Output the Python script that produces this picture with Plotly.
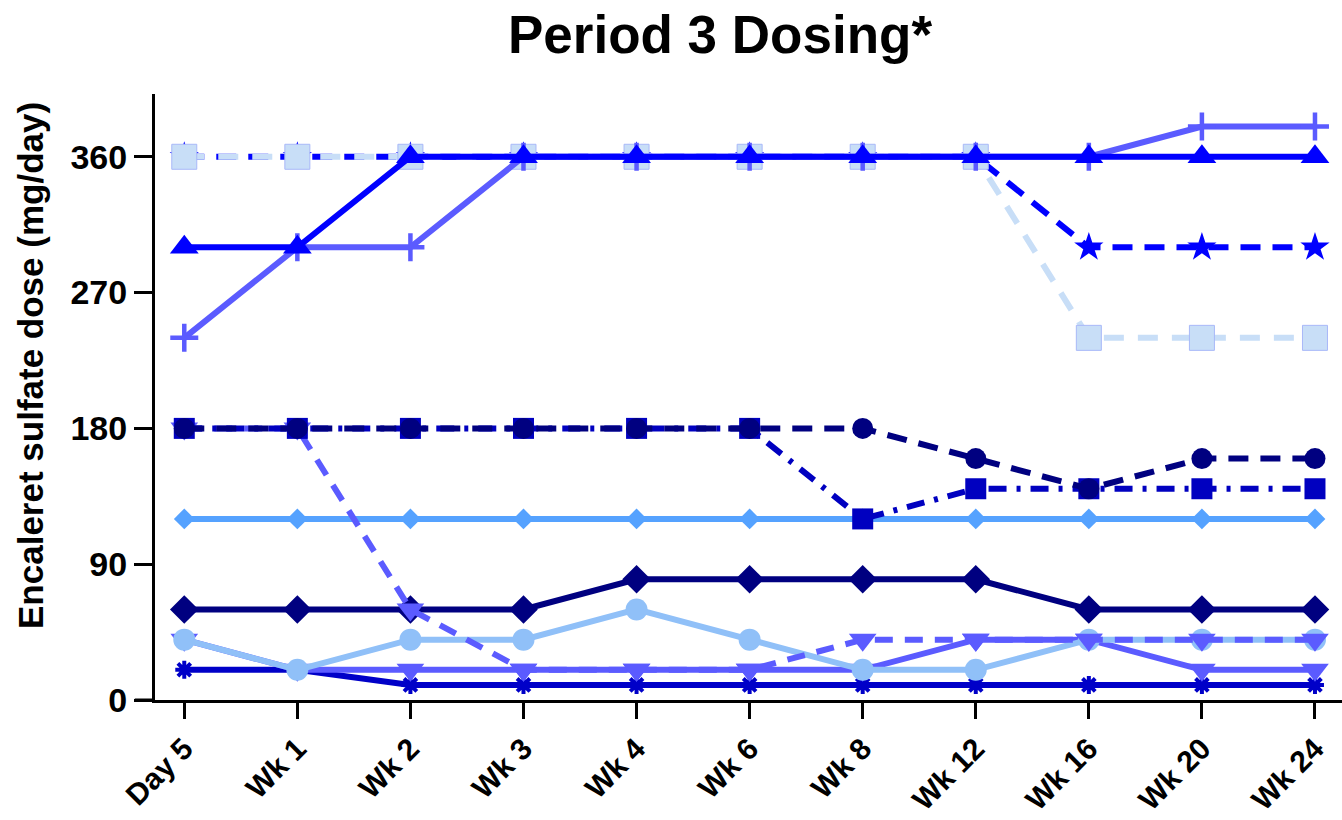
import plotly.graph_objects as go

categories = ["Day 5", "Wk 1", "Wk 2", "Wk 3", "Wk 4", "Wk 6", "Wk 8", "Wk 12", "Wk 16", "Wk 20", "Wk 24"]
y_ticks = [0, 90, 180, 270, 360]

lightblue_diamond = [120, 120, 120, 120, 120, 120, 120, 120, 120, 120, 120]
navy_diamond = [60, 60, 60, 60, 80, 80, 80, 80, 60, 60, 60]
asterisk_series = [20, 20, 10, 10, 10, 10, 10, 10, 10, 10, 10]
tridown_solid = [40, 20, 20, 20, 20, 20, 20, 40, 40, 20, 20]
light_circle = [40, 20, 40, 40, 60, 40, 20, 20, 40, 40, 40]
tridown_dashed = [180, 180, 60, 20, 20, 20, 40, 40, 40, 40, 40]
square_dashdot = [180, 180, 180, 180, 180, 180, 120, 140, 140, 140, 140]
circle_dashed = [180, 180, 180, 180, 180, 180, 180, 160, 140, 160, 160]
star_dashed = [360, 360, 360, 360, 360, 360, 360, 360, 300, 300, 300]
light_square = [360, 360, 360, 360, 360, 360, 360, 360, 240, 240, 240]
cross_series = [240, 300, 300, 360, 360, 360, 360, 360, 360, 380, 380]
triangle_series = [300, 300, 360, 360, 360, 360, 360, 360, 360, 360, 360]

x = list(range(len(categories)))

series = [
    (lightblue_diamond, "#55A2FF", "solid", "diamond", 16, 6, None),
    (navy_diamond, "#000080", "solid", "diamond", 22, 6, None),
    (asterisk_series, "#0000C8", "solid", "asterisk-open", 15, 6, 4),
    (tridown_solid, "#5B5BFF", "solid", "triangle-down", 24, 6, None),
    (light_circle, "#90C0F8", "solid", "circle", 22, 6, None),
    (tridown_dashed, "#5B5BFF", "18px,12px", "triangle-down", 24, 6, None),
    (square_dashdot, "#0000C0", "18px,10px,4px,10px", "square", 21, 6, None),
    (circle_dashed, "#000080", "20px,12px", "circle", 21, 6, None),
    (star_dashed, "#0000FF", "20px,12px", "star", 22, 6, None),
    (light_square, "#C8DEF7", "20px,14px", "square", 25, 6, None),
    (cross_series, "#5B5BFF", "solid", "cross-thin", 20, 6, 4.5),
    (triangle_series, "#0000FF", "solid", "triangle-up", 25, 6, None),
]

fig = go.Figure()
for vals, color, dash, sym, size, lw, mlw in series:
    marker = dict(symbol=sym, size=size, color=color)
    if mlw:
        marker["line"] = dict(width=mlw, color=color)
    elif sym == "square" and color == "#C8DEF7":
        marker["line"] = dict(width=1, color="#A8B8F8")
    else:
        marker["line"] = dict(width=0)
    fig.add_trace(go.Scatter(
        x=x, y=vals, mode="lines+markers",
        line=dict(color=color, width=lw, dash=dash),
        marker=marker, showlegend=False, cliponaxis=False,
    ))

font_family = "Liberation Sans, Arial, Helvetica, sans-serif"

fig.update_layout(
    width=1342, height=820,
    margin=dict(l=155, r=0, t=94, b=120),
    paper_bgcolor="white", plot_bgcolor="white",
    font=dict(family=font_family, color="black"),
    title=dict(text="<b>Period 3 Dosing*</b>", x=720 / 1342, xanchor="center",
               y=1 - 34 / 820, yanchor="middle", font=dict(size=53, color="black")),
    xaxis=dict(
        range=[-0.259, 10.239], tickvals=x, automargin=False,
        ticktext=["<b>" + c + "</b>" for c in categories],
        tickangle=-45, ticks="outside", ticklen=16, tickwidth=3, tickcolor="black",
        showline=True, linewidth=3, linecolor="black", showgrid=False, zeroline=False,
        tickfont=dict(size=30, color="black"),
    ),
    yaxis=dict(
        range=[0, 401.6], tickvals=y_ticks, automargin=False,
        ticktext=["<b>" + str(v) + "</b>" for v in y_ticks],
        ticks="outside", ticklen=18, tickwidth=3, tickcolor="black",
        showline=True, linewidth=3, linecolor="black", showgrid=False, zeroline=False,
        tickfont=dict(size=34, color="black"),
    ),
    shapes=[dict(type="line", xref="paper", yref="paper", x0=-0.017, x1=0, y0=0, y1=0,
                 line=dict(color="black", width=3))],
    annotations=[dict(text="<b>Encaleret sulfate dose (mg/day)</b>", xref="paper", yref="paper",
                      x=(30 - 155) / 1187, y=(700 - 366) / 606, textangle=-90,
                      showarrow=False, xanchor="center", yanchor="middle",
                      font=dict(size=35, color="black"))],
)

fig.write_html("out.html")
